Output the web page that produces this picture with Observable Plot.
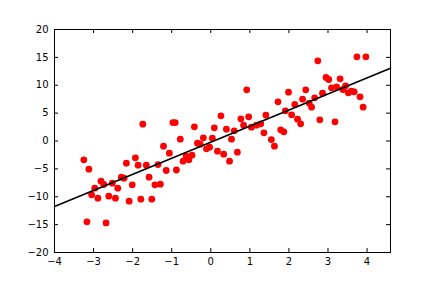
<!DOCTYPE html>
<html>
<head>
<meta charset="utf-8">
<script src="https://cdn.jsdelivr.net/npm/d3@7"></script>
<script src="https://cdn.jsdelivr.net/npm/@observablehq/plot@0.6"></script>
<style>
  html, body { margin: 0; padding: 0; background: #fff; }
</style>
</head>
<body>
<div id="chart"></div>
<script>
const xs = [-3.25,-3.12,-3.17,-3.05,-2.97,-2.89,-2.81,-2.74,-2.68,-2.61,-2.52,-2.44,-2.38,-2.29,-2.22,-2.16,-2.09,-2.01,-1.93,-1.86,-1.79,-1.74,-1.65,-1.58,-1.51,-1.43,-1.35,-1.29,-1.21,-1.14,-1.06,-0.97,-0.91,-0.88,-0.78,-0.71,-0.63,-0.56,-0.48,-0.42,-0.34,-0.27,-0.19,-0.11,-0.03,0.04,0.09,0.17,0.26,0.33,0.40,0.48,0.53,0.60,0.68,0.77,0.84,0.92,0.97,1.04,1.17,1.28,1.36,1.41,1.55,1.63,1.72,1.79,1.87,1.91,1.99,2.07,2.15,2.22,2.30,2.35,2.43,2.52,2.58,2.66,2.74,2.79,2.86,2.95,3.02,3.09,3.18,3.22,3.31,3.38,3.45,3.52,3.60,3.67,3.74,3.82,3.90,3.97];
const ys = [-3.37,-5.05,-14.5,-9.66,-8.46,-10.26,-7.21,-7.80,-14.7,-9.90,-7.57,-10.26,-8.46,-6.49,-6.67,-3.98,-10.8,-7.86,-3.02,-4.33,-10.44,3.02,-4.33,-6.49,-10.44,-7.86,-4.22,-7.75,-0.93,-5.29,-2.19,3.3,3.3,-5.2,0.33,-3.62,-2.73,-3.37,-2.55,2.54,-0.39,-0.57,0.57,-1.40,-1.11,0.50,2.37,-1.83,4.52,-2.37,2.12,-3.62,0.33,1.83,-2.01,3.98,2.84,9.18,4.34,2.48,2.84,3.08,1.47,4.65,0.25,-0.93,7.03,2.01,1.65,5.42,8.76,4.70,6.55,3.91,3.08,7.50,9.18,6.78,6.07,7.74,14.38,3.80,8.58,11.39,11.03,9.54,3.44,9.72,11.15,9.24,9.9,8.64,8.93,8.82,15.1,7.93,6.07,15.1];
const lineX = [-4, 4.6];
const lineY = [-11.75, 13.06];
const xTicks = [-4,-3,-2,-1,0,1,2,3,4];
const yTicks = [-20,-15,-10,-5,0,5,10,15,20];

const points = xs.map((x, i) => ({x, y: ys[i]}));
const fit = lineX.map((x, i) => ({x, y: lineY[i]}));
const fmt = d3.format("d");

const W = 433, H = 289, ML = 54, MR = 43, MT = 29, MB = 37, TK = 4;
const innerW = W - ML - MR, innerH = H - MT - MB;

const chart = Plot.plot({
  width: W,
  height: H,
  marginLeft: ML,
  marginRight: MR,
  marginTop: MT,
  marginBottom: MB,
  style: {fontFamily: "DejaVu Sans", fontSize: "10px", color: "black", background: "white"},
  x: {domain: [-4, 4.6], label: null},
  y: {domain: [-20, 20], label: null},
  marks: [
    Plot.dot(points, {x: "x", y: "y", r: 3.4, fill: "red", stroke: "none"}),
    Plot.line(fit, {x: "x", y: "y", stroke: "black", strokeWidth: 1.6}),
    Plot.frame({stroke: "black", strokeWidth: 1}),
    Plot.tickX(xTicks, {x: d => d, insetTop: innerH - TK, stroke: "black"}),
    Plot.tickX(xTicks, {x: d => d, insetBottom: innerH - TK, stroke: "black"}),
    Plot.tickY(yTicks, {y: d => d, insetRight: innerW - TK, stroke: "black"}),
    Plot.tickY(yTicks, {y: d => d, insetLeft: innerW - TK, stroke: "black"}),
    Plot.axisX(xTicks, {anchor: "bottom", tickSize: 0, tickPadding: 5, tickFormat: fmt, label: null, fill: "black"}),
    Plot.axisY(yTicks, {anchor: "left", tickSize: 0, tickPadding: 6, tickFormat: fmt, label: null, fill: "black"})
  ]
});
document.getElementById("chart").appendChild(chart);
</script>
</body>
</html>
